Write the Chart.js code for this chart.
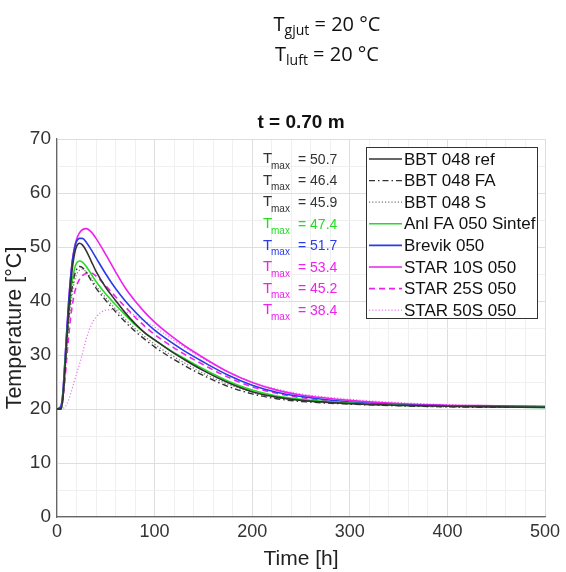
<!DOCTYPE html>
<html>
<head>
<meta charset="utf-8">
<script src="https://cdn.jsdelivr.net/npm/chart.js@4.4.0/dist/chart.umd.min.js"></script>
<style>
  html, body { margin: 0; padding: 0; background: #fff; }
  #wrap { width: 566px; height: 572px; }
</style>
</head>
<body>
<div id="wrap"><canvas id="tempChart" width="566" height="572"></canvas></div>
<script>
// time axis [h]
var hours = [0, 4, 6, 8, 10, 12, 14, 16, 18, 20, 23, 26, 30, 35, 40, 50, 60, 70, 80, 90, 100, 115, 130, 150, 175, 200, 225, 250, 300, 350, 400, 450, 500];

// temperature [°C] per series
var bbtRef  = [20, 20, 22, 27, 33, 38.5, 43, 46.5, 48.8, 50.1, 50.7, 50.4, 49.3, 47.4, 45.5, 42.5, 40.1, 37.8, 35.8, 34.1, 32.8, 30.9, 29.2, 27.1, 24.9, 23.2, 22.2, 21.6, 21.0, 20.7, 20.5, 20.4, 20.3];
var bbtFA   = [20, 20, 22, 27, 32.5, 37, 40.5, 43, 44.8, 45.8, 46.4, 46.2, 45.3, 43.8, 42.4, 40.1, 38.0, 36.1, 34.4, 32.9, 31.5, 29.7, 28.1, 26.2, 24.2, 22.8, 21.9, 21.4, 20.9, 20.6, 20.4, 20.3, 20.3];
var bbtS    = [20, 20, 21.8, 26, 31, 35.5, 39, 41.8, 43.7, 44.9, 45.7, 45.9, 45.4, 44.2, 42.8, 40.6, 38.5, 36.6, 34.9, 33.4, 32.0, 30.2, 28.6, 26.6, 24.6, 23.1, 22.1, 21.6, 21.0, 20.6, 20.4, 20.3, 20.3];
var anlFA   = [20, 20, 22, 27.5, 33, 37.8, 41.5, 44.2, 46, 47, 47.4, 47.2, 46.4, 45, 43.6, 41.3, 39.3, 37.4, 35.6, 34.1, 32.8, 31.0, 29.4, 27.4, 25.2, 23.5, 22.4, 21.8, 21.1, 20.7, 20.5, 20.4, 20.3];
var brevik  = [20, 20.5, 23, 28.5, 34.5, 40, 44.5, 47.8, 49.8, 51, 51.6, 51.6, 50.9, 49.5, 48, 45, 42.3, 40, 38, 36.2, 34.6, 32.6, 30.8, 28.7, 26.3, 24.4, 23.1, 22.3, 21.3, 20.8, 20.6, 20.5, 20.4];
var star10S = [20, 20.5, 23, 28.5, 34.5, 40, 44.5, 47.8, 50, 51.4, 52.6, 53.2, 53.4, 52.8, 51.6, 48.6, 45.4, 42.4, 40.0, 37.9, 36.1, 33.8, 31.8, 29.5, 26.9, 24.9, 23.5, 22.6, 21.6, 21.0, 20.7, 20.6, 20.5];
var star25S = [20, 20, 21.5, 25, 29.5, 33.5, 37, 39.6, 41.5, 42.8, 44, 44.7, 45.1, 45.2, 44.6, 42.8, 40.8, 38.9, 37.0, 35.3, 33.8, 31.9, 30.2, 28.2, 25.9, 24.1, 22.9, 22.1, 21.2, 20.8, 20.6, 20.5, 20.4];
var star50S = [20, 20, 20.1, 20.3, 20.9, 21.7, 22.8, 24.0, 25.3, 26.5, 28.3, 30.2, 33.0, 35.5, 37.0, 38.3, 38.4, 38.0, 37.3, 36.3, 35.2, 33.3, 31.5, 29.3, 26.9, 25.0, 23.7, 22.8, 21.8, 21.2, 20.8, 20.6, 20.5];

var seriesNames = ["BBT 048 ref", "BBT 048 FA", "BBT 048 S", "Anl FA 050 Sintef", "Brevik 050", "STAR 10S 050", "STAR 25S 050", "STAR 50S 050"];
var tmaxLabels = ["50.7", "46.4", "45.9", "47.4", "51.7", "53.4", "45.2", "38.4"];

var xTicks = [0, 100, 200, 300, 400, 500];
var yTicks = [0, 10, 20, 30, 40, 50, 60, 70];

function pts(vals) {
    return hours.map(function (h, i) { return { x: h, y: vals[i] }; });
}

var styles = [
    { color: '#333333', text: '#333333', dash: [], width: 1.6 },
    { color: '#333333', text: '#333333', dash: [6, 3, 1.5, 3], width: 1.4 },
    { color: '#777777', text: '#333333', dash: [1.2, 2], width: 1.3 },
    { color: '#22dd22', text: '#22dd22', dash: [], width: 1.6 },
    { color: '#2a3be8', text: '#2a3be8', dash: [], width: 1.6 },
    { color: '#ee22ee', text: '#ee22ee', dash: [], width: 1.6 },
    { color: '#ee22ee', text: '#ee22ee', dash: [6, 4], width: 1.6 },
    { color: '#f070f0', text: '#ee22ee', dash: [1.2, 2], width: 1.2 }
];
var allSeries = [bbtRef, bbtFA, bbtS, anlFA, brevik, star10S, star25S, star50S];

var datasets = allSeries.map(function (vals, i) {
    return {
        label: seriesNames[i],
        data: pts(vals),
        borderColor: styles[i].color,
        borderDash: styles[i].dash,
        borderWidth: styles[i].width,
        pointRadius: 0,
        fill: false,
        cubicInterpolationMode: 'monotone'
    };
});

function drawSubText(ctx, x, y, main, sub, rest, mainFont, subFont, subDrop) {
    ctx.font = mainFont;
    ctx.fillText(main, x, y);
    x += ctx.measureText(main).width;
    ctx.font = subFont;
    ctx.fillText(sub, x, y + subDrop);
    x += ctx.measureText(sub).width;
    ctx.font = mainFont;
    ctx.fillText(rest, x, y);
}

function widthOf(ctx, main, sub, rest, mainFont, subFont) {
    ctx.font = mainFont;
    var w = ctx.measureText(main).width + ctx.measureText(rest).width;
    ctx.font = subFont;
    return w + ctx.measureText(sub).width;
}

var extras = {
    id: 'extras',
    afterDraw: function (chart) {
        var ctx = chart.ctx;
        var area = chart.chartArea;
        ctx.save();
        ctx.textBaseline = 'middle';
        ctx.fillStyle = '#111';

        // header
        var hf = '20px "Open Sans"', hs = '14px "Open Sans"';
        var w1 = widthOf(ctx, 'T', 'gjut', ' = 20 °C', hf, hs);
        drawSubText(ctx, 327 - w1 / 2, 25, 'T', 'gjut', ' = 20 °C', hf, hs, 6);
        var w2 = widthOf(ctx, 'T', 'luft', ' = 20 °C', hf, hs);
        drawSubText(ctx, 327 - w2 / 2, 55, 'T', 'luft', ' = 20 °C', hf, hs, 6);

        // title
        ctx.textAlign = 'center';
        ctx.font = 'bold 19px "Liberation Sans"';
        ctx.fillText('t = 0.70 m', (area.left + area.right) / 2, 123);
        ctx.textAlign = 'left';

        // Tmax annotations
        var rowY = 160, rowH = 21.6;
        for (var i = 0; i < tmaxLabels.length; i++) {
            ctx.fillStyle = styles[i].text;
            var y = rowY + i * rowH;
            ctx.font = '15px "Liberation Sans"';
            ctx.fillText('T', 263, y - 1);
            ctx.font = '10px "Liberation Sans"';
            ctx.fillText('max', 271, y + 6);
            ctx.font = '14px "Liberation Sans"';
            ctx.fillText('= ' + tmaxLabels[i], 298, y);
        }

        // legend box
        var bx = 366, by = 147, bw = 171, bh = 171;
        ctx.fillStyle = '#fff';
        ctx.fillRect(bx, by, bw, bh);
        ctx.strokeStyle = '#333';
        ctx.lineWidth = 1;
        ctx.strokeRect(bx + 0.5, by + 0.5, bw, bh);
        chart.data.datasets.forEach(function (ds, j) {
            var y = 159 + j * 21.6;
            ctx.beginPath();
            ctx.setLineDash(ds.borderDash);
            ctx.strokeStyle = ds.borderColor;
            ctx.lineWidth = ds.borderWidth;
            ctx.moveTo(369, y);
            ctx.lineTo(402, y);
            ctx.stroke();
            ctx.setLineDash([]);
            ctx.fillStyle = '#111';
            ctx.font = '17px "Liberation Sans"';
            ctx.fillText(ds.label, 404, y + 1);
        });
        ctx.restore();
    }
};

new Chart("tempChart", {
    type: 'line',
    data: { datasets: datasets },
    plugins: [extras],
    options: {
        responsive: false,
        animation: false,
        layout: { padding: { top: 139, right: 21, left: 0, bottom: 0 } },
        plugins: {
            legend: { display: false },
            title: { display: false },
            tooltip: { enabled: false }
        },
        scales: {
            x: {
                type: 'linear',
                min: 0,
                max: 500,
                afterFit: function (s) { s.height = 55; },
                afterBuildTicks: function (s) {
                    var t = [];
                    for (var v = 0; v <= 500; v += 20) t.push({ value: v });
                    s.ticks = t;
                },
                ticks: {
                    autoSkip: false,
                    maxRotation: 0,
                    padding: 4,
                    color: '#333',
                    font: { family: 'Liberation Sans', size: 18 },
                    callback: function (v) { return xTicks.indexOf(v) >= 0 ? String(v) : ''; }
                },
                grid: {
                    drawTicks: false,
                    color: function (c) { return c.tick && c.tick.value % 100 === 0 ? '#dedede' : '#f0f0f0'; }
                },
                border: { display: true, color: '#666', width: 1.2 },
                title: {
                    display: true,
                    text: 'Time [h]',
                    color: '#222',
                    font: { family: 'Liberation Sans', size: 21 },
                    padding: { top: 0, bottom: 0 }
                }
            },
            y: {
                min: 0,
                max: 70,
                afterFit: function (s) { s.width = 57; },
                afterBuildTicks: function (s) {
                    var t = [];
                    for (var v = 0; v <= 70; v += 5) t.push({ value: v });
                    s.ticks = t;
                },
                ticks: {
                    autoSkip: false,
                    padding: 6,
                    color: '#333',
                    font: { family: 'Liberation Sans', size: 19 },
                    callback: function (v) { return yTicks.indexOf(v) >= 0 ? String(v) : ''; }
                },
                grid: {
                    drawTicks: false,
                    color: function (c) { return c.tick && c.tick.value % 10 === 0 ? '#dedede' : '#f0f0f0'; }
                },
                border: { display: true, color: '#666', width: 1.2 },
                title: {
                    display: true,
                    text: 'Temperature [°C]',
                    color: '#222',
                    font: { family: 'Liberation Sans', size: 21.5 },
                    padding: { top: 2, bottom: 0 }
                }
            }
        }
    }
});
</script>
</body>
</html>
